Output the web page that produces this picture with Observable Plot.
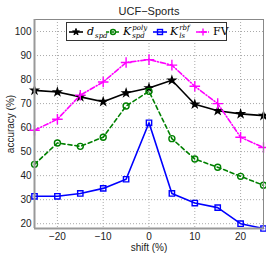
<!DOCTYPE html>
<html><head><meta charset="utf-8">
<script src="https://cdn.jsdelivr.net/npm/d3@7"></script>
<script src="https://cdn.jsdelivr.net/npm/@observablehq/plot@0.6"></script>
<style>
body{margin:0;background:#fff}
#wrap{position:relative;width:266px;height:253px;font-family:"Liberation Sans",Arial,sans-serif}
#legend{position:absolute;left:66px;top:22px;width:159px;height:17px;border:1px solid #333;background:#fff;font-family:"DejaVu Serif",serif;font-size:11px}
#legend .it{position:absolute;top:0;height:17px;display:flex;align-items:center}
#legend svg{display:block}
.ss{display:inline-flex;flex-direction:column;font-size:7px;line-height:8px;vertical-align:middle;font-style:italic;margin-left:1px}
.sub{font-size:7px;font-style:italic;position:relative;top:3px;margin-left:1px}
</style></head>
<body><div id="wrap"></div>
<script>
const shift = [-25,-20,-15,-10,-5,0,5,10,15,20,25];
const dSpd  = [75.5,74.8,72.8,70.8,74.4,76.5,79.7,69.7,67,65.7,65];
const kPoly = [44.7,53.6,52.2,56,69,75.1,55.4,46.9,43.5,39.7,36];
const kRbf  = [31.4,31.4,32.6,34.7,38.5,62,32.6,28.6,26.7,20,18];
const fv    = [58.9,63.5,73.5,79,87.1,88.3,86,77.2,70,56,51.7];
const xTicks = [-20,-10,0,10,20];
const yTicks = [20,30,40,50,60,70,80,90,100];

const series = [
  {key:"d", values:dSpd, color:"#000", dash:null, symbol:"star", fill:"#000", r:2.2},
  {key:"poly", values:kPoly, color:"#008000", dash:"4,3", symbol:"circle", fill:"none", r:3},
  {key:"rbf", values:kRbf, color:"#0000ff", dash:null, symbol:"square", fill:"none", r:3},
  {key:"fv", values:fv, color:"#ff00ff", dash:"5,2,1,2", symbol:"plus", fill:"none", r:3.5}
];
const marks = [
  Plot.gridX(xTicks,{stroke:"#aaa",strokeOpacity:1,strokeDasharray:"1,2"}),
  Plot.gridY(yTicks,{stroke:"#aaa",strokeOpacity:1,strokeDasharray:"1,2"}),
  Plot.axisX({ticks:xTicks,tickSize:0,tickPadding:4,fontSize:10,label:"shift (%)",labelAnchor:"center",labelArrow:"none",labelOffset:22}),
  Plot.axisY({ticks:yTicks,tickSize:0,tickPadding:3,fontSize:10,label:"accuracy (%)",labelAnchor:"center",labelArrow:"none",labelOffset:28}),
];
for (const s of series) {
  const data = shift.map((x,i)=>({x, y:s.values[i]}));
  marks.push(Plot.line(data,{x:"x",y:"y",stroke:s.color,strokeWidth:1.6,strokeDasharray:s.dash}));
  marks.push(Plot.dot(data,{x:"x",y:"y",symbol:s.symbol,r:s.r,stroke:s.color,fill:s.fill,strokeWidth:1.4}));
}
marks.push(Plot.frame({stroke:"#888",strokeWidth:1}));
marks.push(Plot.ruleX([-25],{stroke:"#999",strokeWidth:2}));
marks.push(Plot.ruleY([18],{stroke:"#999",strokeWidth:2}));
marks.push(Plot.text(["UCF−Sports"],{frameAnchor:"top",dy:-12,fontSize:11,fill:"#222"}));

const chart = Plot.plot({
  width:266,height:253,
  marginLeft:34,marginRight:3,marginTop:19,marginBottom:25,
  x:{domain:[-25,25]},
  y:{domain:[18,105]},
  style:{fontFamily:"Liberation Sans, Arial, sans-serif",color:"#222",background:"#fff"},
  marks
});
const wrap = document.getElementById("wrap");
wrap.appendChild(chart);

function sample(color,dash,symbol){
  const w=14,h=10,c=w/2,m=h/2;
  let sym="";
  if(symbol==="star") sym=`<path d="${d3.symbol(d3.symbolStar,14)()}" transform="translate(${c},${m})" fill="${color}" stroke="${color}"/>`;
  if(symbol==="circle") sym=`<circle cx="${c}" cy="${m}" r="2.5" fill="none" stroke="${color}" stroke-width="1.4"/>`;
  if(symbol==="square") sym=`<rect x="${c-2.5}" y="${m-2.5}" width="5" height="5" fill="none" stroke="${color}" stroke-width="1.4"/>`;
  if(symbol==="plus") sym=`<path d="M${c-3.5},${m}H${c+3.5}M${c},${m-3.5}V${m+3.5}" stroke="${color}" stroke-width="1.4"/>`;
  return `<svg width="${w}" height="${h}"><line x1="0" x2="${w}" y1="${m}" y2="${m}" stroke="${color}" stroke-width="1.6" ${dash?`stroke-dasharray="${dash}"`:""}/>${sym}</svg>`;
}
const legend = document.createElement("div");
legend.id="legend";
legend.innerHTML = `
<div class="it" style="left:2px">${sample("#000",null,"star")}<span style="margin-left:4px"><i>d</i><span class="sub">spd</span></span></div>
<div class="it" style="left:39px">${sample("#008000","3,2","circle")}<span style="margin-left:3px"><i>K</i><span class="ss"><span>poly</span><span>spd</span></span></span></div>
<div class="it" style="left:86px">${sample("#0000ff",null,"square")}<span style="margin-left:3px"><i>K</i><span class="ss"><span>rbf</span><span>ls</span></span></span></div>
<div class="it" style="left:129px">${sample("#ff00ff","4,1,1,1","plus")}<span style="margin-left:3px">FV</span></div>`;
wrap.appendChild(legend);
</script>
</body></html>
